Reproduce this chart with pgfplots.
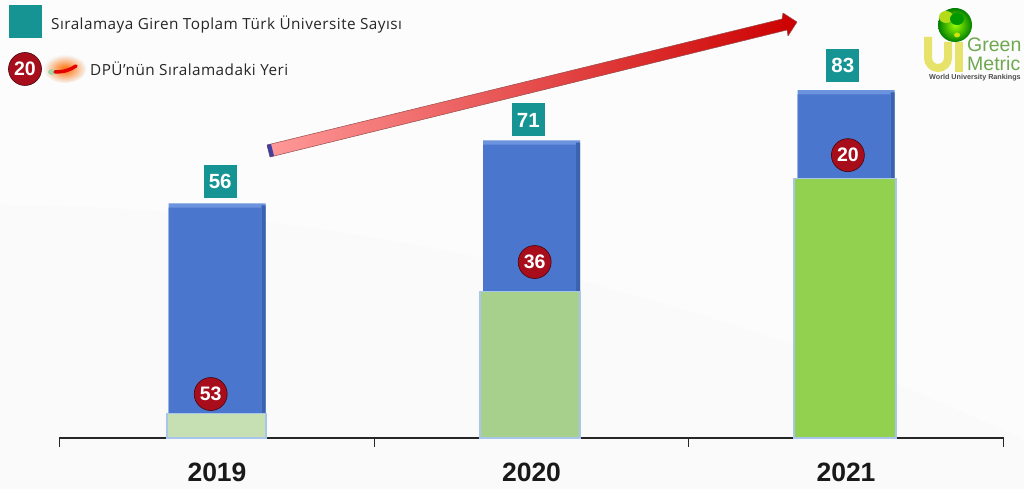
\documentclass[border=0pt]{standalone}
\usepackage{pgfplots}
\pgfplotsset{compat=1.18}
\usepackage{fontspec}
\setmainfont{Open Sans}[LetterSpace=3]
\newfontfamily\numfont{Liberation Sans}
\usetikzlibrary{shadings}

\definecolor{barblue}{HTML}{4A76CE}
\definecolor{bartop}{HTML}{6C93DD}
\definecolor{bardark}{HTML}{3A62AF}
\definecolor{tealbox}{HTML}{169494}
\definecolor{rankred}{HTML}{A80D1C}
\definecolor{edgeblue}{HTML}{A8C6EA}
\definecolor{logogreen}{HTML}{6FA84F}
\definecolor{logoyellow}{HTML}{E6E26A}

\begin{document}
\begin{tikzpicture}
\path[use as bounding box] (0,0) rectangle (1024pt,489pt);
\clip (0,0) rectangle (1024pt,489pt);
\fill[white!99!black] (0,0) rectangle (1024pt,489pt);
\begin{scope}[x=1pt,y=-1pt,yshift=489pt]
  \fill[black!2] (0,205) .. controls (200,205) and (600,240) .. (1024,440) -- (1024,489) -- (0,489) -- cycle;
\end{scope}
\begin{axis}[
  width=1024pt, height=489pt, scale only axis,
  xmin=-0.69, xmax=2.566, ymin=-12.17, ymax=104.53,
  axis y line=none, axis x line=bottom,
  axis line style={draw=none},
  xtick={0,1,2}, xticklabels={2019,2020,2021},
  major tick length=0pt,
  xticklabel style={yshift=30pt,font=\numfont\bfseries\fontsize{26.5}{28}\selectfont,text=black!90},
  ybar, bar shift=0pt,
  clip=false,
]
% baseline and ticks
\addplot[sharp plot,draw=black!85,line width=1.3pt] coordinates {(-0.5,-2.1) (-0.5,0) (2.5,0) (2.5,-2.1)};
\addplot[sharp plot,draw=black!85,line width=1.1pt] coordinates {(0.5,-2.1) (0.5,0)};
\addplot[sharp plot,draw=black!85,line width=1.1pt] coordinates {(1.5,-2.1) (1.5,0)};
% total universities: blue bars
\addplot[fill=bartop,draw=none,bar width=97pt] coordinates {(0,56) (1,71) (2,83)};
\addplot[fill=bardark,draw=none,bar width=4pt,bar shift=46.5pt] coordinates {(0,55.5) (1,70.5) (2,82.5)};
\addplot[fill=barblue,draw=none,bar width=93pt,bar shift=-2pt] coordinates {(0,55) (1,70) (2,82)};
% DPU share: green bars
\addplot[fill={rgb,255:red,198;green,224;blue,180},draw=edgeblue,line width=1.2pt,bar width=99pt,bar shift=-0.5pt] coordinates {(0,5.8)};
\addplot[fill={rgb,255:red,168;green,208;blue,141},draw=edgeblue,line width=1.2pt,bar width=100pt,bar shift=-1.5pt] coordinates {(1,35)};
\addplot[fill={rgb,255:red,146;green,208;blue,80},draw=edgeblue,line width=1.2pt,bar width=102pt,bar shift=-1pt] coordinates {(2,62)};
% totals in teal boxes
\addplot[only marks,mark=none,
  nodes near coords, point meta=explicit symbolic,
  nodes near coords align={center},
  every node near coord/.style={fill=tealbox,text=white,font=\numfont\bfseries\fontsize{20.5}{22}\selectfont,minimum size=33pt,inner sep=0pt,anchor=center}]
  table[meta=v] {
  x y v
  0.01 61.3 56
  0.99 75.9 71
  1.99 89.0 83
};
% ranks in red circles
\addplot[only marks,mark=none,
  nodes near coords, point meta=explicit symbolic,
  nodes near coords align={center},
  every node near coord/.style={circle,fill=rankred,draw=black!60!rankred,line width=0.6pt,text=white,font=\numfont\bfseries\fontsize{19.5}{21}\selectfont,minimum size=33pt,inner sep=0pt,anchor=center}]
  table[meta=v] {
  x y v
  -0.02 10.5 53
  1.01 42.0 36
  2.006 67.5 20
};
\end{axis}
\begin{scope}[x=1pt,y=-1pt,yshift=489pt]
  % trend arrow
  \shade[left color=red!40!white,right color=red!80!black,draw=none]
    (267,145) -- (782,19) -- (783,13) -- (797,22) -- (788,36) -- (787,30) -- (270,157) -- cycle;
  \draw[red!40!black!70,line width=0.5pt,line join=round]
    (267,145) -- (782,19) -- (783,13) -- (797,22) -- (788,36) -- (787,30) -- (270,157) -- cycle;
  \fill[blue!50!black!75] (267,145) -- (270,157) -- (274,156) -- (271,144) -- cycle;
  % legend
  \fill[tealbox] (9,5) rectangle (42,38);
  \node[anchor=west,inner sep=0pt,text=black!85,font=\fontsize{15.3}{17}\selectfont] at (51,25) {Sıralamaya Giren Toplam Türk Üniversite Sayısı};
  \node[circle,fill=rankred,draw=black!60!rankred,line width=0.6pt,text=white,font=\numfont\bfseries\fontsize{19.5}{21}\selectfont,minimum size=33pt,inner sep=0pt] at (25,69) {20};
  \shade[inner color=orange!85!red,outer color=white!97!black] (65,69) ellipse (21 and 14);
  \fill[green!50!black!35] (52,72) ellipse (4 and 3);
  \draw[red!90!black,line width=3.5pt,line cap=round] (55,72) .. controls (64,72) and (70,70) .. (76,66);
  \node[anchor=west,inner sep=0pt,text=black!85,font=\fontsize{15.3}{17}\selectfont] at (90,69) {DPÜ’nün Sıralamadaki Yeri};
  % logo
  \draw[logoyellow,line width=8pt,line cap=butt] (928,37) -- (928,58) arc[start angle=180,end angle=0,radius=10] -- (948,42);
  \fill[logoyellow] (955,42) rectangle (963,72);
  \shade[inner color=yellow!60!green,outer color=green!50!black] (955,25) circle (17);
  \fill[yellow!70!green] (946,17) ellipse (7 and 6);
  \fill[green!60!black] (957,19) ellipse (7 and 6);
  \fill[yellow!80!green] (957,35) ellipse (3 and 2.5);
  \node[anchor=west,inner sep=0pt,text=logogreen,font=\numfont\fontsize{19.5}{20}\selectfont] at (967,45) {Green};
  \node[anchor=west,inner sep=0pt,text=logogreen,font=\numfont\fontsize{19.5}{20}\selectfont] at (967,64) {Metric};
  \node[anchor=west,inner sep=0pt,text=black!70,font=\numfont\bfseries\fontsize{7.2}{8}\selectfont] at (929,78) {World University Rankings};
\end{scope}
\end{tikzpicture}
\end{document}
